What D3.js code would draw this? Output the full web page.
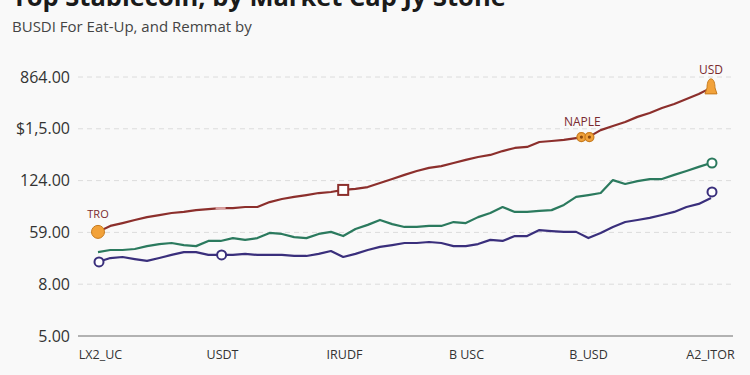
<!DOCTYPE html>
<html>
<head>
<meta charset="utf-8">
<script src="https://cdn.jsdelivr.net/npm/d3@7"></script>
<style>
  body { margin: 0; background: #f9f9f9; }
  svg { display: block; font-family: "Open Sans", "Noto Sans", sans-serif; }
</style>
</head>
<body>
<svg id="chart"></svg>
<script>
const width = 750, height = 375;

const categories = ["LX2_UC", "USDT", "IRUDF", "B USC", "B_USD", "A2_ITOR"];
const yTickLabels = ["5.00", "8.00", "59.00", "124.00", "$1,5.00", "864.00"];
const yTickValues = [0, 20, 40, 60, 80, 100];

// one value per step, 51 steps across the six categories
const redSeries = [40.2, 42.5, 43.6, 44.8, 45.9, 46.7, 47.5, 47.9, 48.6, 49.0,
  49.4, 49.4, 49.8, 49.8, 51.7, 52.9, 53.7, 54.4, 55.2, 55.6,
  56.4, 56.8, 57.5, 59.1, 60.6, 62.2, 63.7, 64.9, 65.6, 66.8,
  68.0, 69.1, 69.9, 71.4, 72.6, 73.0, 74.9, 75.3, 75.7, 76.4,
  76.8, 79.5, 81.1, 82.6, 84.6, 86.1, 88.0, 89.6, 91.5, 93.4, 95.8];
const greenSeries = [32.4, 33.2, 33.2, 33.6, 34.7, 35.5, 35.9, 35.1, 34.7, 36.7,
  36.7, 37.8, 37.1, 37.8, 39.8, 39.4, 38.2, 37.8, 39.4, 40.2,
  38.6, 41.3, 42.9, 44.8, 43.2, 42.1, 42.1, 42.5, 42.5, 44.0,
  43.6, 45.9, 47.5, 49.8, 47.9, 47.9, 48.3, 48.6, 50.6, 53.7,
  54.4, 55.2, 60.2, 58.7, 59.8, 60.6, 60.6, 62.2, 63.7, 65.3, 66.8];
const purpleSeries = [28.6, 30.1, 30.5, 29.7, 29.0, 30.1, 31.3, 32.4, 32.4, 31.3,
  31.3, 31.3, 31.7, 31.3, 31.3, 31.3, 30.9, 30.9, 31.7, 32.8,
  30.5, 31.7, 33.2, 34.4, 35.1, 35.9, 35.9, 36.3, 35.9, 34.7,
  34.7, 35.5, 37.1, 36.7, 38.6, 38.6, 40.9, 40.5, 40.2, 40.2,
  37.8, 39.8, 42.1, 44.0, 44.8, 45.6, 46.7, 47.9, 49.8, 51.0, 53.3];

const series = [
  {name: "red", values: redSeries, color: "#8c2f2c"},
  {name: "green", values: greenSeries, color: "#2b7a5e"},
  {name: "purple", values: purpleSeries, color: "#3a2f7c"}
];

const svg = d3.select("#chart").attr("width", width).attr("height", height);

const x = d3.scaleLinear().domain([0, 50]).range([98, 711]);
const xCat = d3.scalePoint().domain(categories).range([100, 710]);
const y = d3.scaleLinear().domain([0, 100]).range([336, 77]);

svg.append("rect").attr("width", width).attr("height", height).attr("fill", "#f9f9f9");

// title and subtitle (title sits partly above the frame, as in the source)
svg.append("text")
    .attr("x", 12).attr("y", 6)
    .attr("font-size", 25.5).attr("font-weight", "bold").attr("fill", "#1a1a1a")
    .text("Top Stablecoin, by Market Cap Jy Stone");
svg.append("text")
    .attr("x", 12).attr("y", 32)
    .attr("font-size", 15).attr("fill", "#444")
    .text("BUSDI For Eat-Up, and Remmat by");

// grid
svg.append("g")
  .selectAll("line")
  .data(yTickValues.slice(1))
  .join("line")
    .attr("x1", 78).attr("x2", 735)
    .attr("y1", d => y(d)).attr("y2", d => y(d))
    .attr("stroke", "#dcdcdc")
    .attr("stroke-dasharray", "5,4");

svg.append("line")
    .attr("x1", 78).attr("x2", 733)
    .attr("y1", y(0)).attr("y2", y(0))
    .attr("stroke", "#9a9a9a").attr("stroke-width", 1.5);

// y labels
const yAxis = d3.axisLeft(y).tickValues(yTickValues)
    .tickFormat((d, i) => yTickLabels[i]).tickSize(0).tickPadding(0);
svg.append("g")
    .attr("transform", "translate(70,0)")
    .call(yAxis)
    .call(g => g.select(".domain").remove())
    .call(g => g.selectAll("text")
        .attr("font-size", 16).attr("fill", "#333")
        .attr("font-family", "Open Sans, sans-serif"));

// x labels
const xAxis = d3.axisBottom(xCat).tickSize(0).tickPadding(0);
svg.append("g")
    .attr("transform", "translate(0,350)")
    .call(xAxis)
    .call(g => g.select(".domain").remove())
    .call(g => g.selectAll("text")
        .attr("font-size", 12.5).attr("fill", "#333")
        .attr("font-family", "Open Sans, sans-serif"));

// lines
const line = d3.line()
    .x((d, i) => x(i))
    .y(d => y(d));

svg.append("g")
  .selectAll("path")
  .data(series)
  .join("path")
    .attr("d", d => line(d.values))
    .attr("fill", "none")
    .attr("stroke", d => d.color)
    .attr("stroke-width", 2.2)
    .attr("stroke-linejoin", "round");

// open circle markers
const circleMarks = [
  {s: purpleSeries, i: 0, color: "#3a2f7c"},
  {s: purpleSeries, i: 10, color: "#3a2f7c"},
  {s: purpleSeries, i: 50, color: "#3a2f7c", dy: -6},
  {s: greenSeries, i: 50, color: "#2b7a5e"}
];
svg.append("g")
  .selectAll("circle")
  .data(circleMarks)
  .join("circle")
    .attr("cx", d => x(d.i) + 1)
    .attr("cy", d => y(d.s[d.i]) + (d.dy || 0))
    .attr("r", 4.5)
    .attr("fill", "#fff")
    .attr("stroke", d => d.color)
    .attr("stroke-width", 2);

// red square marker
svg.append("rect")
    .attr("x", x(20) - 5).attr("y", y(redSeries[20]) - 5)
    .attr("width", 10).attr("height", 10)
    .attr("fill", "#fff").attr("stroke", "#8c2f2c").attr("stroke-width", 2);
svg.append("rect")
    .attr("x", x(10) - 5).attr("y", y(redSeries[10]) - 1)
    .attr("width", 10).attr("height", 2.5)
    .attr("fill", "#d9a0a0");

// orange badges
const orange = "#f2a23a", orangeEdge = "#c77b1e";
svg.append("circle")
    .attr("cx", x(0)).attr("cy", y(redSeries[0]))
    .attr("r", 6.5).attr("fill", orange).attr("stroke", orangeEdge).attr("stroke-width", 1);
[-4, 4].forEach(dx => {
  svg.append("circle")
      .attr("cx", x(40) - 3 + dx).attr("cy", y(redSeries[40]))
      .attr("r", 4.5).attr("fill", orange).attr("stroke", orangeEdge).attr("stroke-width", 1.2);
  svg.append("circle")
      .attr("cx", x(40) - 3 + dx).attr("cy", y(redSeries[40]))
      .attr("r", 1.6).attr("fill", "#8a4a10");
});
svg.append("path")
    .attr("transform", `translate(${x(50)},${y(redSeries[50])})`)
    .attr("d", "M0,-9 C3,-9 4,-4 4,0 L6,6 L-6,6 L-4,0 C-4,-4 -3,-9 0,-9 Z")
    .attr("fill", orange).attr("stroke", orangeEdge).attr("stroke-width", 1);

// point labels
const pointLabels = [
  {text: "TRO", i: 0, dy: -14, size: 11},
  {text: "NAPLE", i: 40, dy: -11, dx: -6, size: 12},
  {text: "USD", i: 50, dy: -14, size: 12}
];
svg.append("g")
  .selectAll("text")
  .data(pointLabels)
  .join("text")
    .attr("x", d => x(d.i) + (d.dx || 0))
    .attr("y", d => y(redSeries[d.i]) + d.dy)
    .attr("text-anchor", "middle")
    .attr("font-size", d => d.size)
    .attr("fill", "#7a2a30")
    .text(d => d.text);
</script>
</body>
</html>
